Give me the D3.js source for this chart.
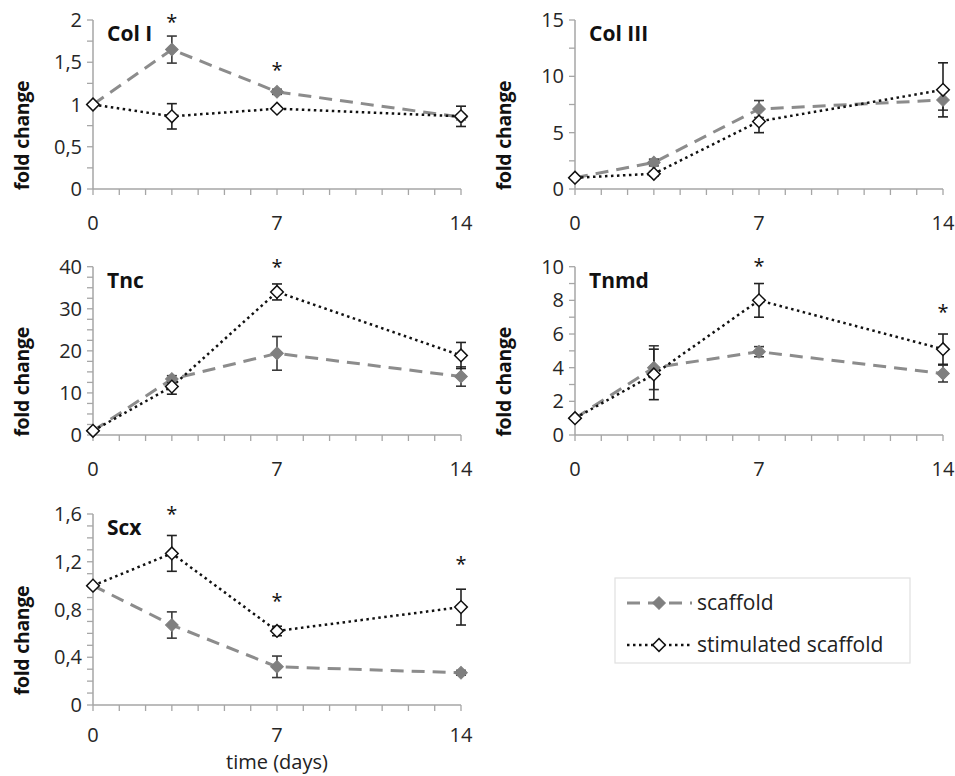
<!DOCTYPE html>
<html><head><meta charset="utf-8">
<script src="https://cdn.jsdelivr.net/npm/d3@7"></script>
<style>
html,body{margin:0;padding:0;background:#fff;}
text{font-family:"Open Sans","Noto Sans",sans-serif;}
</style></head>
<body>
<svg id="chart" width="955" height="776"></svg>
<script>
// ---------- data ----------
const days = [0, 3, 7, 14];
const xTickLabels = [0, 7, 14];
const geneNames = ["Col I", "Col III", "Tnc", "Tnmd", "Scx"];
const yMax = [2, 15, 40, 10, 1.6];
const yMajorStep = [0.5, 5, 10, 2, 0.4];
const yMinorStep = [0.25, 2.5, 2.5, 1, 0.1];
const seriesNames = ["scaffold", "stimulated scaffold"];

const scaffoldColI = [1, 1.65, 1.15, 0.85];
const scaffoldColIErr = [0, 0.16, 0.03, 0.03];
const stimColI = [1, 0.86, 0.95, 0.86];
const stimColIErr = [0, 0.15, 0.02, 0.12];
const sigDaysColI = [3, 7];
const sigYColI = [2.02, 1.45];

const scaffoldColIII = [1, 2.35, 7.1, 7.9];
const scaffoldColIIIErr = [0, 0.3, 0.75, 0.9];
const stimColIII = [1, 1.35, 6.0, 8.8];
const stimColIIIErr = [0, 0.2, 1.0, 2.4];
const sigDaysColIII = [];
const sigYColIII = [];

const scaffoldTnc = [1, 13.3, 19.4, 13.9];
const scaffoldTncErr = [0, 0.8, 4.0, 2.3];
const stimTnc = [1, 11.5, 34.0, 18.9];
const stimTncErr = [0, 1.8, 1.9, 3.1];
const sigDaysTnc = [7];
const sigYTnc = [40.9];

const scaffoldTnmd = [1, 4.0, 4.95, 3.65];
const scaffoldTnmdErr = [0, 1.3, 0.3, 0.5];
const stimTnmd = [1, 3.6, 8.0, 5.1];
const stimTnmdErr = [0, 1.5, 1.0, 0.9];
const sigDaysTnmd = [7, 14];
const sigYTnmd = [10.3, 7.53];

const scaffoldScx = [1, 0.67, 0.32, 0.27];
const scaffoldScxErr = [0, 0.11, 0.09, 0.02];
const stimScx = [1, 1.27, 0.62, 0.82];
const stimScxErr = [0, 0.15, 0.04, 0.15];
const sigDaysScx = [3, 7, 14];
const sigYScx = [1.633, 0.902, 1.214];

// ---------- layout ----------
const panelBoxes = [
  {left: 93, right: 461, top: 20, bottom: 189, xLabOff: 34},
  {left: 575, right: 943, top: 20, bottom: 189, xLabOff: 34},
  {left: 93, right: 461, top: 266.7, bottom: 435, xLabOff: 34},
  {left: 575, right: 943, top: 266.7, bottom: 435, xLabOff: 34},
  {left: 93, right: 461, top: 514, bottom: 705, xLabOff: 30}
];
const scaffoldVals = [scaffoldColI, scaffoldColIII, scaffoldTnc, scaffoldTnmd, scaffoldScx];
const scaffoldErrs = [scaffoldColIErr, scaffoldColIIIErr, scaffoldTncErr, scaffoldTnmdErr, scaffoldScxErr];
const stimVals = [stimColI, stimColIII, stimTnc, stimTnmd, stimScx];
const stimErrs = [stimColIErr, stimColIIIErr, stimTncErr, stimTnmdErr, stimScxErr];
const sigDays = [sigDaysColI, sigDaysColIII, sigDaysTnc, sigDaysTnmd, sigDaysScx];
const sigYs = [sigYColI, sigYColIII, sigYTnc, sigYTnmd, sigYScx];

const axisColor = "#a6a6a6";
const scaffoldColor = "#8c8c8c";
const markerScaffold = "#7f7f7f";
const textColor = "#262626";

const svg = d3.select("#chart");
const fmt = v => d3.format("~g")(+v.toFixed(3)).replace(".", ",");
const diamond = d3.symbol().type(d3.symbolSquare).size(80);

geneNames.forEach((name, i) => {
  const b = panelBoxes[i];
  const x = d3.scaleLinear().domain([0, 14]).range([b.left, b.right]);
  const y = d3.scaleLinear().domain([0, yMax[i]]).range([b.bottom, b.top]);
  const g = svg.append("g");

  // y axis line + ticks
  const minorTicks = d3.range(0, yMax[i] + 1e-9, yMinorStep[i]);
  const majorTicks = d3.range(0, yMax[i] + 1e-9, yMajorStep[i]);
  g.append("line").attr("x1", b.left).attr("x2", b.left).attr("y1", y(yMax[i])).attr("y2", y(0))
    .attr("stroke", axisColor).attr("stroke-width", 1.5);
  g.selectAll(".ymt").data(minorTicks).join("line")
    .attr("x1", b.left - 6).attr("x2", b.left).attr("y1", d => y(d)).attr("y2", d => y(d))
    .attr("stroke", axisColor).attr("stroke-width", 1.3);
  g.selectAll(".ylab").data(majorTicks).join("text")
    .attr("x", b.left - 11).attr("y", d => y(d)).attr("dy", "0.35em")
    .attr("text-anchor", "end").attr("font-size", 20).attr("fill", textColor)
    .text(d => fmt(d));

  // x axis line + ticks
  g.append("line").attr("x1", x(0)).attr("x2", x(14)).attr("y1", y(0)).attr("y2", y(0))
    .attr("stroke", axisColor).attr("stroke-width", 1.5);
  g.selectAll(".xmt").data(d3.range(0, 15)).join("line")
    .attr("x1", d => x(d)).attr("x2", d => x(d)).attr("y1", y(0)).attr("y2", y(0) + 6)
    .attr("stroke", axisColor).attr("stroke-width", 1.3);
  g.selectAll(".xlab").data(xTickLabels).join("text")
    .attr("x", d => x(d)).attr("y", y(0) + b.xLabOff).attr("dy", "0.35em")
    .attr("text-anchor", "middle").attr("font-size", 20).attr("fill", textColor)
    .text(d => d);

  // y title
  const cy = (b.top + b.bottom) / 2 + 31;
  g.append("text").attr("transform", `translate(${b.left - 71},${cy}) rotate(-90)`)
    .attr("text-anchor", "middle").attr("font-size", 19.5).attr("font-weight", "bold")
    .attr("letter-spacing", -0.3)
    .attr("fill", "#111").attr("dy", "0.35em").text("fold change");

  // panel title
  g.append("text").attr("x", b.left + 14).attr("y", b.top + 21)
    .attr("font-size", 21).attr("font-weight", "bold").attr("fill", "#111").text(name);

  const line = d3.line().x((d, k) => x(days[k])).y(d => y(d));

  // lines
  g.append("path").attr("d", line(scaffoldVals[i])).attr("fill", "none")
    .attr("stroke", scaffoldColor).attr("stroke-width", 3).attr("stroke-dasharray", "13,8");
  g.append("path").attr("d", line(stimVals[i])).attr("fill", "none")
    .attr("stroke", "#111").attr("stroke-width", 2.5).attr("stroke-dasharray", "2.5,3.5");

  // error bars
  const drawErr = (vals, errs, color) => {
    vals.forEach((v, k) => {
      if (!errs[k]) return;
      const xx = x(days[k]);
      const y1 = y(v + errs[k]), y2 = y(v - errs[k]);
      g.append("line").attr("x1", xx).attr("x2", xx).attr("y1", y1).attr("y2", y2)
        .attr("stroke", color).attr("stroke-width", 1.6);
      [y1, y2].forEach(yy => g.append("line").attr("x1", xx - 5).attr("x2", xx + 5)
        .attr("y1", yy).attr("y2", yy).attr("stroke", color).attr("stroke-width", 1.6));
    });
  };
  drawErr(scaffoldVals[i], scaffoldErrs[i], "#3a3a3a");
  drawErr(stimVals[i], stimErrs[i], "#222");

  // markers
  g.selectAll(".ms").data(scaffoldVals[i]).join("path")
    .attr("d", diamond)
    .attr("transform", (d, k) => `translate(${x(days[k])},${y(d)}) rotate(45)`)
    .attr("fill", markerScaffold).attr("stroke", markerScaffold).attr("stroke-width", 1);
  g.selectAll(".mt").data(stimVals[i]).join("path")
    .attr("d", diamond)
    .attr("transform", (d, k) => `translate(${x(days[k])},${y(d)}) rotate(45)`)
    .attr("fill", "#fff").attr("stroke", "#111").attr("stroke-width", 1.5);

  // significance asterisks
  g.selectAll(".sig").data(sigDays[i]).join("text")
    .attr("x", d => x(d)).attr("y", (d, k) => y(sigYs[i][k]) + 11)
    .attr("text-anchor", "middle").attr("font-size", 20).attr("fill", "#111").text("*");
});

// x title
svg.append("text").attr("x", 277).attr("y", 762).attr("dy", "0.35em")
  .attr("text-anchor", "middle").attr("font-size", 20).attr("fill", "#222").text("time (days)");

// legend
const lg = svg.append("g");
lg.append("rect").attr("x", 615).attr("y", 578).attr("width", 295).attr("height", 85)
  .attr("fill", "#fff").attr("stroke", "#e0e0e0").attr("stroke-width", 1.2);
const legendY = [603, 645];
lg.append("line").attr("x1", 627).attr("x2", 692).attr("y1", legendY[0]).attr("y2", legendY[0])
  .attr("stroke", scaffoldColor).attr("stroke-width", 3).attr("stroke-dasharray", "13,8");
lg.append("path").attr("d", diamond).attr("transform", `translate(659,${legendY[0]}) rotate(45)`)
  .attr("fill", markerScaffold).attr("stroke", markerScaffold);
lg.append("line").attr("x1", 627).attr("x2", 692).attr("y1", legendY[1]).attr("y2", legendY[1])
  .attr("stroke", "#111").attr("stroke-width", 2.5).attr("stroke-dasharray", "2.5,3.5");
lg.append("path").attr("d", diamond).attr("transform", `translate(659,${legendY[1]}) rotate(45)`)
  .attr("fill", "#fff").attr("stroke", "#111").attr("stroke-width", 1.5);
lg.selectAll(".lt").data(seriesNames).join("text")
  .attr("x", 697).attr("y", (d, k) => legendY[k]).attr("dy", "0.35em")
  .attr("font-size", 21).attr("fill", "#222").text(d => d);
</script>
</body></html>
